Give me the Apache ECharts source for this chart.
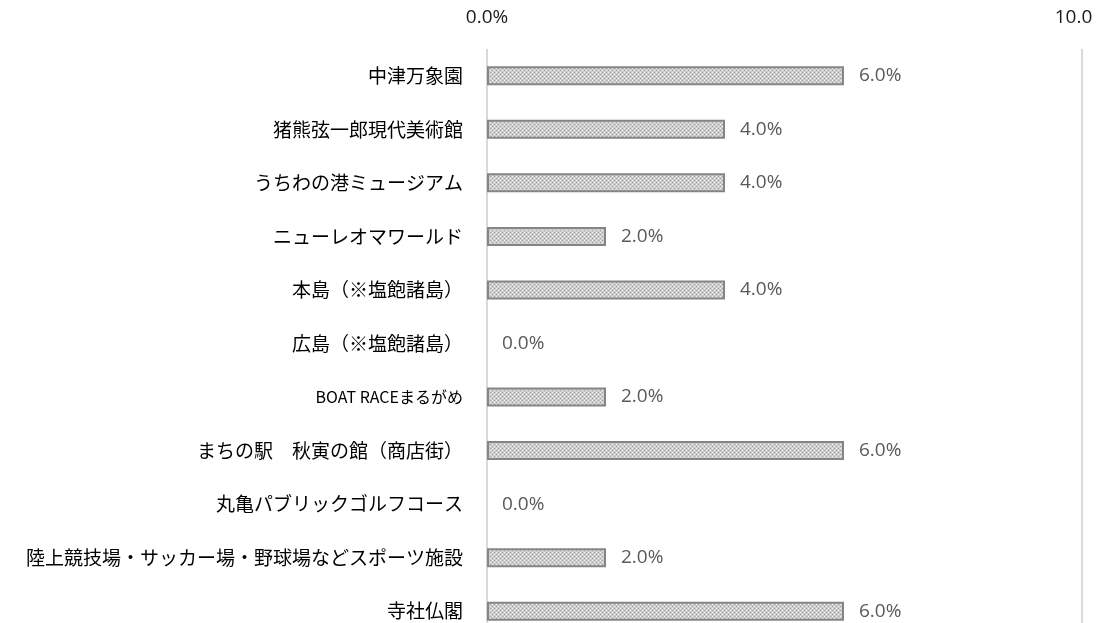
<!DOCTYPE html>
<html>
<head>
<meta charset="utf-8">
<script src="https://cdn.jsdelivr.net/npm/echarts@6/dist/echarts.min.js"></script>
<style>
  html, body { margin: 0; padding: 0; background: #fff; overflow: hidden; }
  /* 最下段の区間が画面の下に少しはみ出すので高さを多めにとる */
  #chart { width: 1116px; height: 650px; }
</style>
</head>
<body>
<div id="chart"></div>
<script>
'use strict';
// 施設名
const categories = [
  '中津万象園',
  '猪熊弦一郎現代美術館',
  'うちわの港ミュージアム',
  'ニューレオマワールド',
  '本島（※塩飽諸島）',
  '広島（※塩飽諸島）',
  'BOAT RACEまるがめ',
  'まちの駅　秋寅の館（商店街）',
  '丸亀パブリックゴルフコース',
  '陸上競技場・サッカー場・野球場などスポーツ施設',
  '寺社仏閣'
];
// 割合(%)
const values = [6, 4, 4, 2, 4, 0, 2, 6, 0, 2, 6];
const axisMin = 0;
const axisMax = 10;
const axisStep = 10;

// 網掛けパターン
function makePattern() {
  let c = document.createElement('canvas');
  c.width = 4;
  c.height = 4;
  let ctx = c.getContext('2d');
  ctx.fillStyle = '#cdcdcd';
  ctx.fillRect(0, 0, 4, 4);
  ctx.fillStyle = '#f0f0f0';
  ctx.fillRect(0, 0, 1, 1);
  ctx.fillRect(2, 2, 1, 1);
  ctx.fillStyle = '#a0a0a0';
  ctx.fillRect(2, 0, 1, 1);
  ctx.fillRect(0, 2, 1, 1);
  return c;
}

// 0%の棒は枠線を描かない
let barData = values.map(v => {
  if (v === 0) return { value: v, itemStyle: { borderWidth: 0 } };
  return v;
});

let chart = echarts.init(document.getElementById('chart'));
chart.setOption({
  animation: false,
  grid: { left: 487, right: 34, top: 49, height: 589, containLabel: false },
  xAxis: {
    type: 'value',
    position: 'top',
    min: axisMin,
    max: axisMax,
    interval: axisStep,
    axisLine: { show: false },
    axisTick: { show: false },
    splitLine: { lineStyle: { color: '#d9d9d9', width: 2 } },
    axisLabel: {
      margin: 22,
      fontSize: 19,
      fontFamily: 'Open Sans',
      color: '#1a1a1a',
      formatter: function (v) {
        // 右端のラベルは図では「%」が切れている
        if (v === axisMax) return '{cut|' + v.toFixed(1) + '}';
        return v.toFixed(1) + '%';
      },
      rich: {
        cut: { fontSize: 19, fontFamily: 'Open Sans', color: '#1a1a1a', padding: [0, 17, 0, 0] }
      }
    }
  },
  yAxis: {
    type: 'category',
    inverse: true,
    data: categories,
    axisLine: { show: false },
    axisTick: { show: false },
    axisLabel: {
      margin: 24,
      fontSize: 19,
      fontFamily: 'Noto Sans CJK JP',
      color: '#000',
      formatter: function (v) {
        if (v.indexOf('BOAT') === 0) return '{s|' + v + '}';
        return v;
      },
      rich: {
        s: { fontSize: 16, fontFamily: 'Noto Sans CJK JP', color: '#000' }
      }
    }
  },
  series: [{
    type: 'bar',
    data: barData,
    barWidth: 19,
    itemStyle: {
      color: { image: makePattern(), repeat: 'repeat' },
      borderColor: '#858585',
      borderWidth: 2
    },
    label: {
      show: true,
      position: 'right',
      distance: 15,
      fontSize: 19,
      fontFamily: 'Open Sans',
      color: '#595959',
      formatter: function (p) {
        return p.value.toFixed(1) + '%';
      }
    }
  }]
});
</script>
</body>
</html>
